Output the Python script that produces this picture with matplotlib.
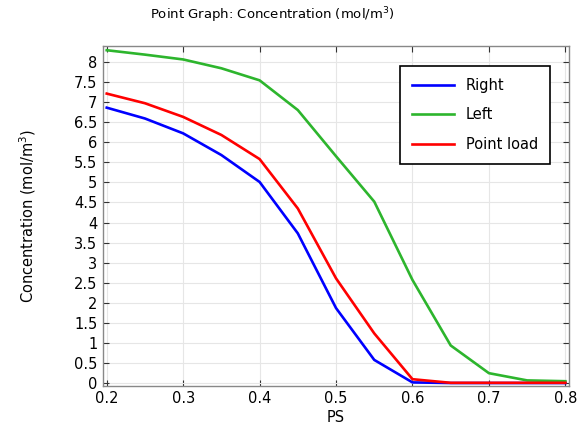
import matplotlib
matplotlib.use("Agg")
import matplotlib.pyplot as plt
import numpy as np

# Data
ps = [0.2, 0.25, 0.3, 0.35, 0.4, 0.45, 0.5, 0.55, 0.6, 0.65, 0.7, 0.75, 0.8]
right = [6.86, 6.59, 6.22, 5.68, 5.01, 3.73, 1.87, 0.58, 0.02, 0.005, 0.005, 0.005, 0.005]
left = [8.29, 8.18, 8.06, 7.84, 7.54, 6.80, 5.65, 4.52, 2.57, 0.94, 0.25, 0.07, 0.05]
point_load = [7.21, 6.97, 6.63, 6.18, 5.58, 4.35, 2.61, 1.24, 0.10, 0.01, 0.01, 0.01, 0.01]

fig = plt.figure(figsize=(5.88, 4.28), dpi=100)
ax = fig.add_axes([0.175, 0.099, 0.793, 0.794])

lw = 1.9
ax.plot(ps, right, color="#0000ff", lw=lw, label="Right", zorder=3)
ax.plot(ps, left, color="#2db52d", lw=lw, label="Left", zorder=3)
ax.plot(ps, point_load, color="#ff0000", lw=lw, label="Point load", zorder=3)

ax.set_xlim(0.195, 0.805)
ax.set_ylim(-0.06, 8.4)
ax.set_xticks(np.arange(0.2, 0.81, 0.1))
ax.set_xticklabels(["0.2", "0.3", "0.4", "0.5", "0.6", "0.7", "0.8"])
yt = np.arange(0, 8.01, 0.5)
ax.set_yticks(yt)
ax.set_yticklabels([f"{v:g}" for v in yt])

ax.grid(True, color="#e6e6e6", lw=0.8, zorder=0)
ax.tick_params(direction="in", length=4, width=0.8, color="#333333",
               labelsize=10.5, top=True, right=True, pad=4)
for s in ax.spines.values():
    s.set_color("#888888")
    s.set_linewidth(1.0)

ax.set_xlabel("PS", fontsize=10.5, labelpad=3)
ax.set_ylabel("Concentration (mol/m$^3$)", fontsize=10.5, labelpad=26)
fig.text(272 / 588, 1 - 15 / 428, "Point Graph: Concentration (mol/m$^3$)",
         fontsize=9.5, ha="center", va="center")

leg = ax.legend(loc="upper right", bbox_to_anchor=(0.958, 0.940), fontsize=10.5,
                fancybox=False, framealpha=1, edgecolor="black", borderaxespad=0,
                handlelength=2.9, labelspacing=1.0, borderpad=0.8)
leg.get_frame().set_linewidth(1.2)

fig.savefig("out.png", dpi=100)
